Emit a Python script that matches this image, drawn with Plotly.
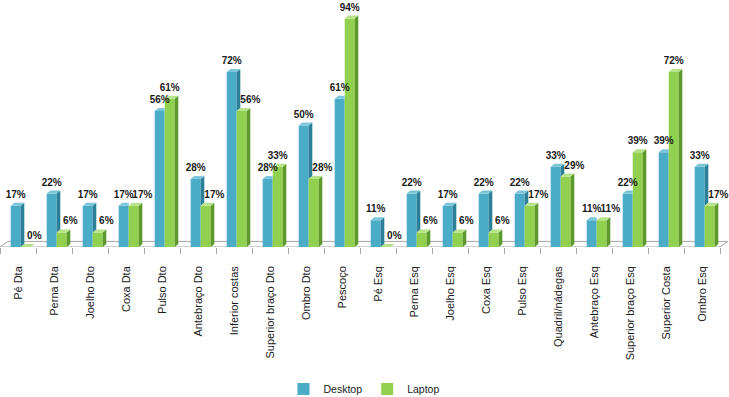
import plotly.graph_objects as go

categories = ["Pé Dta", "Perna Dta", "Joelho Dto", "Coxa Dta", "Pulso Dto",
              "Antebraço Dto", "Inferior costas", "Superior braço Dto", "Ombro Dto",
              "Pescoço", "Pé Esq", "Perna Esq", "Joelho Esq", "Coxa Esq", "Pulso Esq",
              "Quadril/nádegas", "Antebraço Esq", "Superior braço Esq", "Superior Costa",
              "Ombro Esq"]
desktop = [17, 22, 17, 17, 56, 28, 72, 28, 50, 61, 11, 22, 17, 22, 22, 33, 11, 22, 39, 33]
laptop = [0, 6, 6, 17, 61, 17, 56, 33, 28, 94, 0, 6, 6, 6, 17, 29, 11, 39, 72, 17]

BLUE, BLUE_SIDE, BLUE_TOP = "#4AACC6", "#2C7F98", "#7CC6DA"
GREEN, GREEN_SIDE, GREEN_TOP = "#92D050", "#5E9A2B", "#B6E38A"

BAR_W = 0.278
D_OFF = -0.203
L_OFF = D_OFF + BAR_W
DX = 0.1    # bar depth (category units)
DY = 1.25   # bar depth (% units)
FDX = 0.222 # floor depth
FDY = 2.3

xs_idx = list(range(len(categories)))


def side_polys(vals, off, occl=None):
    px, py = [], []
    for i, v in enumerate(vals):
        x1 = i + off + BAR_W
        lo = 0
        if occl is not None:
            lo = occl[i]
            if lo >= v:
                continue
        px += [x1, x1 + DX, x1 + DX, x1, x1, None]
        py += [lo, lo + DY, v + DY, v, lo, None]
    return px, py


def top_polys(vals, off, occl=None):
    px, py = [], []
    for i, v in enumerate(vals):
        x0 = i + off
        x1 = x0 + BAR_W
        if occl is not None and occl[i] >= v:
            px += [x0, x1, x1, x0 + DX, x0, None]
        else:
            px += [x0, x1, x1 + DX, x0 + DX, x0, None]
        py += [v, v, v + DY, v + DY, v, None]
    return px, py


fig = go.Figure()

fig.add_trace(go.Bar(x=xs_idx, y=desktop, name="Desktop", marker_color=BLUE,
                     marker_line_width=0, width=BAR_W, offset=D_OFF))
fig.add_trace(go.Bar(x=xs_idx, y=laptop, name="Laptop", marker_color=GREEN,
                     marker_line_width=0, width=BAR_W, offset=L_OFF))

for (pts, col) in [
    (side_polys(desktop, D_OFF, laptop), BLUE_SIDE),
    (top_polys(desktop, D_OFF, laptop), BLUE_TOP),
    (side_polys(laptop, L_OFF), GREEN_SIDE),
    (top_polys(laptop, L_OFF), GREEN_TOP),
]:
    fig.add_trace(go.Scatter(x=pts[0], y=pts[1], mode="lines", fill="toself",
                             fillcolor=col, line=dict(width=0, color=col),
                             showlegend=False, hoverinfo="skip"))

label_font = dict(family="Liberation Sans, Arial", size=10,
                  color="#1a1a1a", weight="bold")
fig.add_trace(go.Scatter(
    x=[i + D_OFF + BAR_W / 2 for i in xs_idx], y=[v + DY + 1 for v in desktop],
    mode="text", text=[f"{v}%" for v in desktop], textposition="top center",
    textfont=label_font, showlegend=False, hoverinfo="skip", cliponaxis=False))
# laptop labels move right of the bar when the laptop bar is not the taller one
fig.add_trace(go.Scatter(
    x=[i + L_OFF + BAR_W / 2 + (0.24 if laptop[i] <= desktop[i] else 0) for i in xs_idx],
    y=[v + DY + 1 for v in laptop],
    mode="text", text=[f"{v}%" for v in laptop], textposition="top center",
    textfont=label_font, showlegend=False, hoverinfo="skip", cliponaxis=False))

n = len(categories)
floor_path = (f"M {-0.5} 0 L {n - 0.5} 0 L {n - 0.5 + FDX} {FDY} "
              f"L {-0.5 + FDX} {FDY} Z")
fig.add_shape(type="path", path=floor_path, xref="x", yref="y", layer="below",
              fillcolor="#FCFCFC", line=dict(color="#A6A6A6", width=1))

fig.update_layout(
    width=729, height=397,
    margin=dict(l=0, r=1, t=4, b=150),
    paper_bgcolor="white", plot_bgcolor="white",
    barmode="overlay",
    showlegend=True,
    legend=dict(orientation="h", x=0.5, xanchor="center", yref="container",
                y=0.02, yanchor="middle", itemwidth=30,
                font=dict(family="Liberation Sans, Arial",
                          size=10.5, color="#1a1a1a")),
    xaxis=dict(range=[-0.5, n - 0.5 + FDX], tickmode="array", tickvals=xs_idx,
               ticktext=categories, tickangle=-90, ticks="", showgrid=False,
               zeroline=False, showline=False, ticklabelstandoff=16, automargin=False,
               tickfont=dict(family="Liberation Sans, Arial", size=11, color="#1a1a1a"),
               minor=dict(tick0=-0.5, dtick=1, ticks="outside", ticklen=6,
                          tickcolor="#A6A6A6", tickwidth=1, showgrid=False)),
    yaxis=dict(range=[0, 100], visible=False, showgrid=False, zeroline=False,
               automargin=False),
)

fig.write_html("out.html", config={"displayModeBar": False},
               post_script="document.body.style.margin='0';document.body.style.padding='0';")
